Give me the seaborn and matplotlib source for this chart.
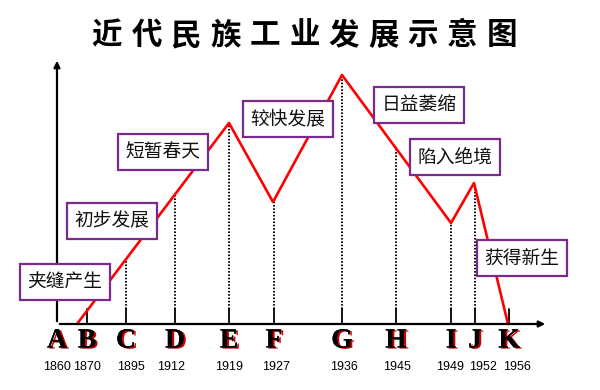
import numpy as np
import pandas as pd
import matplotlib
matplotlib.use("Agg")
import matplotlib.pyplot as plt
import matplotlib.patheffects as pe
import seaborn as sns

# stage letters and years on the time axis
letters = ["A", "B", "C", "D", "E", "F", "G", "H", "I", "J", "K"]
years = ["1860", "1870", "1895", "1912", "1919", "1927", "1936", "1945", "1949", "1952", "1956"]
tick_pos = [0, 30, 69, 118, 172, 217, 285, 339, 394, 418, 452]

# development curve (turning points)
curve_x = [20, 172, 216, 285, 394, 417, 451]
curve_y = [0, 201, 122, 249, 101, 141, 0]

# stage names
stages = ["夹缝产生", "初步发展", "短暂春天", "较快发展", "日益萎缩", "陷入绝境", "获得新生"]
stage_xy = [(8, 42), (55, 103), (106, 172), (231, 205), (362, 219), (398, 167), (465, 66)]

title = "近代民族工业发展示意图"

sns.set_style("white")
plt.rcParams['font.family'] = ['Noto Sans CJK SC', 'DejaVu Sans']

fig = plt.figure(figsize=(6, 3.9), dpi=100)
ax = fig.add_axes([0, 0, 1, 1])
ax.set_xlim(-57, 543)
ax.set_ylim(-66, 324)
ax.axis("off")

df = pd.DataFrame({"x": curve_x, "y": curve_y})
sns.lineplot(data=df, x="x", y="y", color="#ff0000", linewidth=1.9,
             sort=False, ax=ax, zorder=3)

# axes with arrows
ax.annotate("", xy=(491, 0), xytext=(0, 0),
            arrowprops=dict(arrowstyle="-|>", lw=1.6, color="black", mutation_scale=9))
ax.annotate("", xy=(0, 266), xytext=(0, 0),
            arrowprops=dict(arrowstyle="-|>", lw=1.6, color="black", mutation_scale=9))

# ticks and dotted guides up to the curve
tops = np.interp(tick_pos, curve_x, curve_y)
for x, top in zip(tick_pos[1:], tops[1:]):
    ax.plot([x, x], [0, 15], color="black", lw=1.3, zorder=2)
    if top > 15:
        ax.plot([x, x], [15, top], color="black", lw=1.4,
                linestyle=(0, (0.8, 0.9)), zorder=2)

shadow = [pe.withSimplePatchShadow(offset=(1.5, -0.8), shadow_rgbFace="#d00000", alpha=1),
          pe.Normal()]
year_shift = [0, 0, 5, -4, 0, 2, 2, 1, -1, 8, 8]
for x, let, yr, dx in zip(tick_pos, letters, years, year_shift):
    ax.text(x, -17, let, ha="center", va="center", fontsize=20,
            family="Liberation Serif", weight="bold", color="black",
            path_effects=shadow)
    ax.text(x + dx, -43, yr, ha="center", va="center", fontsize=9,
            family="Liberation Sans", color="black")

for name, (x, y) in zip(stages, stage_xy):
    ax.text(x, y, name, ha="center", va="center", fontsize=13.5, color="#111111",
            zorder=5,
            bbox=dict(boxstyle="square,pad=0.4", facecolor="white",
                      edgecolor="#7a2a8c", linewidth=1.6))

# title, spaced characters
for i, ch in enumerate(title):
    ax.text(50 + i * 39.5, 289, ch, ha="center", va="center", fontsize=22,
            weight="heavy", color="black")

fig.savefig("out.png", dpi=100, facecolor="white")
